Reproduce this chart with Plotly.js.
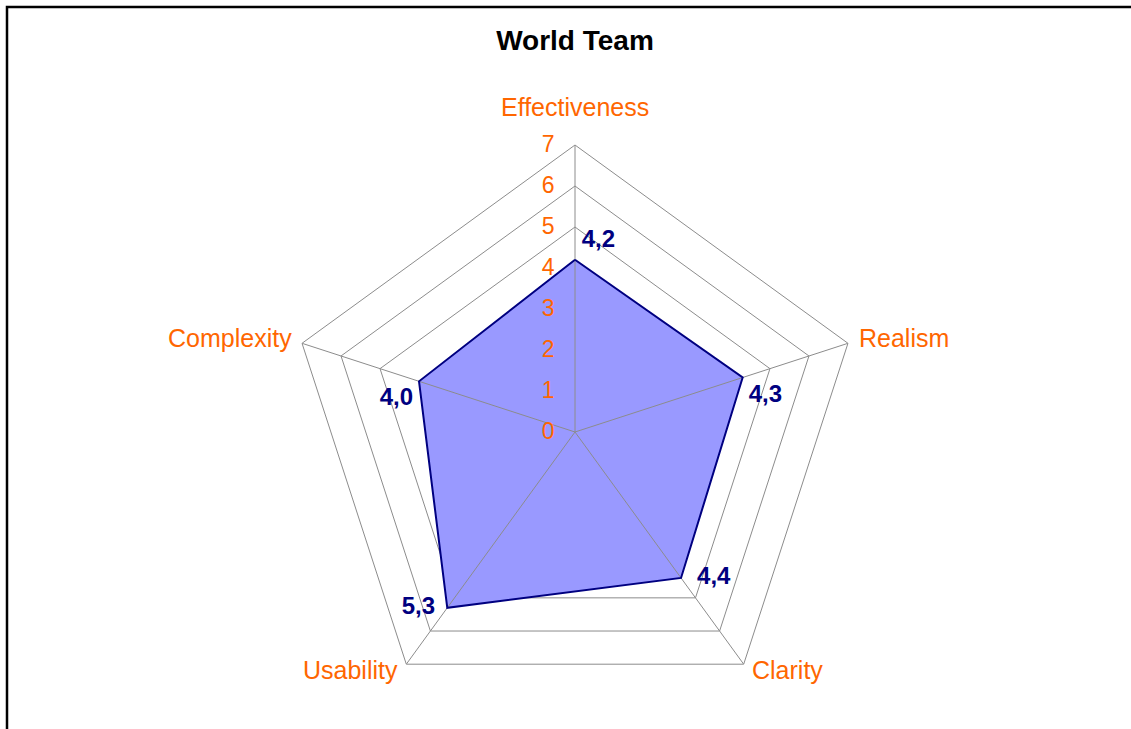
<!DOCTYPE html>
<html>
<head>
<meta charset="utf-8">
<script src="https://cdn.plot.ly/plotly-3.0.1.min.js"></script>
<style>
html,body{margin:0;padding:0;background:#fff;}
#chart{width:1131px;height:729px;}
</style>
</head>
<body>
<div id="chart"></div>
<script>
// Data
const categories = ["Effectiveness", "Realism", "Clarity", "Usability", "Complexity"];
const values = [4.2, 4.3, 4.4, 5.3, 4.0];
const valueLabels = ["4,2", "4,3", "4,4", "5,3", "4,0"];
const tickValues = [0, 1, 2, 3, 4, 5, 6, 7];
const tickLabels = ["0", "1", "2", "3", "4", "5", "6", "7"];
const chartTitle = "World Team";

const rMax = tickValues[tickValues.length - 1];
const W = 1131, H = 729;
const cx = 575, cy = 432, R = 287;
const FONT = "Liberation Sans, Arial, sans-serif";
const CLEAR = "rgba(0,0,0,0)";

// closed loop
const rClosed = values.concat([values[0]]);
const thetaClosed = categories.concat([categories[0]]);

// spokes built from categories
const spokeR = [], spokeT = [];
categories.forEach(c => { spokeR.push(0, rMax, null); spokeT.push(c, c, null); });

const fillTrace = {
  type: "scatterpolar", r: rClosed, theta: thetaClosed,
  mode: "lines", fill: "toself", fillcolor: "#9999FF",
  line: {color: CLEAR, width: 0}, hoverinfo: "skip"
};
const spokeTrace = {
  type: "scatterpolar", r: spokeR, theta: spokeT, mode: "lines",
  line: {color: "#8c8c8c", width: 1}, hoverinfo: "skip", connectgaps: false
};
const lineTrace = {
  type: "scatterpolar", r: rClosed, theta: thetaClosed,
  mode: "lines+markers+text", text: valueLabels.concat([""]),
  textposition: ["top right", "bottom right", "middle right", "middle left", "bottom left", "top right"],
  marker: {color: CLEAR, size: [9, 8, 24, 18, 8, 9], line: {width: 0, color: CLEAR}},
  textfont: {family: FONT, size: 24, color: "#000080", weight: "bold"},
  line: {color: "#000080", width: 2}, cliponaxis: false
};

// category labels placed just outside the outer ring vertices
const n = categories.length;
const labelAnchor = ["center", "left", "left", "right", "right"];
const labelShift = [[0, 38], [9, 5], [6, -6], [-6, -6], [-8, 5]];
const annotations = categories.map((c, i) => {
  const a = (90 - 360 * i / n) * Math.PI / 180;
  const vx = cx + R * Math.cos(a), vy = cy - R * Math.sin(a);
  return {
    text: c, showarrow: false, xref: "paper", yref: "paper",
    x: vx / W, y: 1 - vy / H, xanchor: labelAnchor[i], yanchor: "middle",
    xshift: labelShift[i][0], yshift: labelShift[i][1],
    font: {family: FONT, size: 25, color: "#FF6600"}
  };
});

const layout = {
  width: W, height: H,
  margin: {l: 0, r: 0, t: 0, b: 0},
  paper_bgcolor: "#ffffff",
  showlegend: false,
  title: {
    text: "<b>" + chartTitle + "</b>",
    x: cx / W, xanchor: "center", y: 1 - 40 / H, yanchor: "middle",
    font: {family: FONT, size: 28, color: "#000000"}
  },
  font: {family: FONT},
  annotations: annotations,
  polar: {
    domain: {x: [(cx - 400) / W, (cx + 400) / W], y: [1 - (cy + R) / H, 1 - (cy - R) / H]},
    bgcolor: "#ffffff",
    gridshape: "linear",
    angularaxis: {
      type: "category", direction: "clockwise", rotation: 90,
      showgrid: false, showline: true, linecolor: "#8c8c8c", linewidth: 1,
      ticks: "", showticklabels: false
    },
    radialaxis: {
      range: [0, rMax], tickvals: tickValues, ticktext: tickLabels, angle: 90,
      side: "counterclockwise", tickangle: 90, layer: "above traces",
      showline: false, ticks: "outside", ticklen: 12, tickcolor: CLEAR,
      showticklabels: true, tickfont: {family: FONT, size: 23, color: "#FF6600"},
      showgrid: true, gridcolor: "#8c8c8c", gridwidth: 1
    }
  },
  shapes: [{
    type: "rect", xref: "paper", yref: "paper",
    x0: 7 / W, x1: 1.05, y0: -0.05, y1: 1 - 7 / H,
    line: {color: "#000000", width: 2.5}, fillcolor: CLEAR
  }]
};

Plotly.newPlot("chart", [fillTrace, spokeTrace, lineTrace], layout,
  {displayModeBar: false, staticPlot: true});
</script>
</body>
</html>
